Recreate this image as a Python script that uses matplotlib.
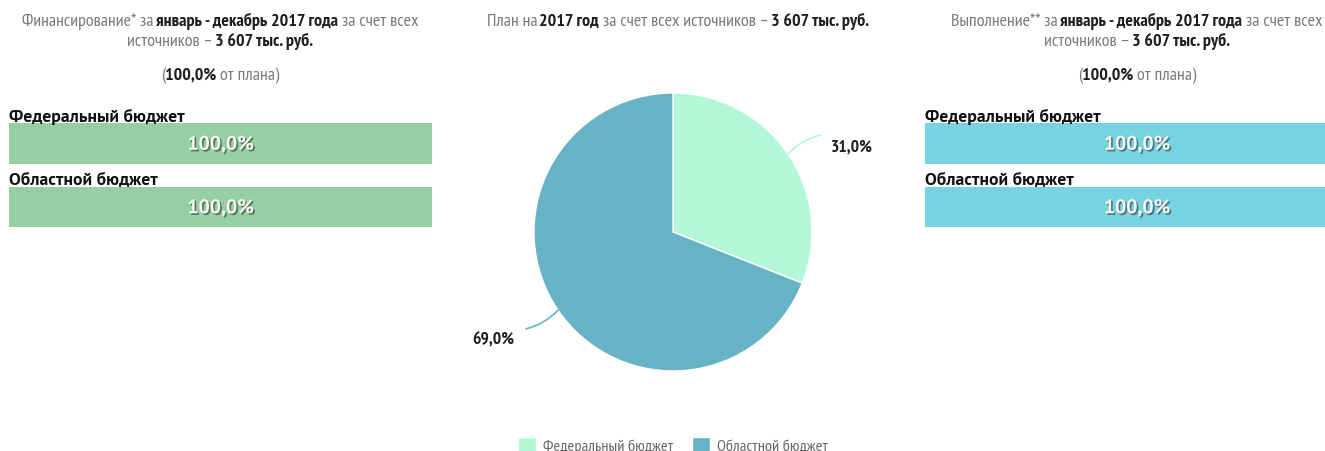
import matplotlib
matplotlib.use('Agg')
import matplotlib.pyplot as plt
import matplotlib.patheffects as pe
from matplotlib import font_manager
import numpy as np

# ---- данные ----
budget_names = ['Федеральный бюджет', 'Областной бюджет']
plan_shares = [31.0, 69.0]           # структура плана, %
financing_pct = [100.0, 100.0]       # финансирование, % от плана
execution_pct = [100.0, 100.0]       # выполнение, % от плана
total_plan = '3 607 тыс. руб.'
period = 'январь - декабрь 2017 года'

pie_colors = ['#b3f7d9', '#68b2c6']
fin_color = '#95cfa2'
exe_color = '#78d3e0'
GREY = '#7a7a7a'
DARK = '#1e1e1e'

W, H = 1325, 452

# шрифты: узкий для подписей, обычный для названий бюджетов
installed = {f.name for f in font_manager.fontManager.ttflist}


def pick(*cands):
    for c in cands:
        if c in installed:
            return c
    return 'DejaVu Sans'


NARROW = pick('PT Sans Narrow', 'Archivo Narrow', 'Liberation Sans Narrow', 'Roboto')
LABEL = pick('PT Sans', 'DejaVu Sans')

fig = plt.figure(figsize=(W / 100, H / 100), dpi=100)
renderer = fig.canvas.get_renderer()


def px(x, y):
    return x / W, 1 - y / H


def text_width(s, **kw):
    t = fig.text(0, 0, s, **kw)
    w = t.get_window_extent(renderer).width
    t.remove()
    return w


def fit_size(s, target, **kw):
    # кегль, при котором строка занимает target пикселей
    return 10 * target / text_width(s, fontsize=10, **kw)


def rich_line(xc, y, parts, size):
    # parts: (текст, жирный, пробел перед)
    em = size * 100 / 72
    widths = [text_width(s, fontsize=size, family=NARROW, fontweight='bold' if b else 'normal')
              for s, b, _ in parts]
    gaps = [0]
    for i in range(1, len(parts)):
        if not parts[i][2]:
            gaps.append(0)
        else:
            # после жирного куска пробел выглядит уже
            gaps.append((0.22 if parts[i - 1][1] else 0.12) * em)
    total = sum(widths) + sum(gaps)
    x = xc - total / 2
    for (s, b, _), w, g in zip(parts, widths, gaps):
        x += g
        fig.text(*px(x, y), s, fontsize=size, family=NARROW, fontweight='bold' if b else 'normal',
                 color=DARK if b else GREY, va='center', ha='left')
        x += w


line1 = [('Финансирование* за', False, True), (period, True, True), ('за счет всех', False, True)]
TSIZE = fit_size('Финансирование* за январь - декабрь 2017 года за счет всех', 394, family=NARROW)
line2 = [('источников –', False, True), (total_plan, True, True)]
line3 = [('(', False, False), ('100,0%', True, False), ('от плана)', False, True)]

rich_line(220, 21.5, line1, TSIZE)
rich_line(220, 41.5, line2, TSIZE)
rich_line(220, 76, line3, TSIZE)
rich_line(678, 21.5, [('План на', False, True), ('2017 год', True, True),
                      ('за счет всех источников –', False, True), (total_plan, True, True)], TSIZE)
rich_line(1137, 21.5, [('Выполнение** за', False, True), (period, True, True), ('за счет всех', False, True)], TSIZE)
rich_line(1137, 41.5, line2, TSIZE)
rich_line(1137, 76, line3, TSIZE)

LSIZE = fit_size(budget_names[0], 175, family=LABEL, fontweight='bold')
VSIZE = fit_size('100,0%', 66, family=LABEL, fontweight='bold')


def bar_panel(x0, x1, values, color):
    top, bottom = 106.4, 233.4
    ax = fig.add_axes([x0 / W, 1 - bottom / H, (x1 - x0) / W, (bottom - top) / H])
    ypos = np.arange(len(values))
    ax.barh(ypos, values, height=0.64, color=color, edgecolor='none')
    ax.set_xlim(0, 100)
    ax.set_ylim(len(values) - 0.6, -0.6)
    ax.axis('off')
    for i, (name, v) in enumerate(zip(budget_names, values)):
        ax.text(0, i - 0.44, name, fontsize=LSIZE, fontweight='bold', color='#111111',
                ha='left', va='center', family=LABEL)
        ax.text(50, i + 0.02, f'{v:.1f}%'.replace('.', ','), fontsize=VSIZE, fontweight='bold',
                color='#f6f6f6', ha='center', va='center', family=LABEL,
                path_effects=[pe.withSimplePatchShadow(offset=(1.2, -1.2), shadow_rgbFace='#2a2a2a', alpha=0.55)])
    return ax


bar_panel(9, 432, financing_pct, fin_color)
bar_panel(925, 1349, execution_pct, exe_color)

# круговая диаграмма
R = 139
half = 200
cx, cy = 673, 233
pax = fig.add_axes([(cx - half) / W, 1 - (cy + half) / H, 2 * half / W, 2 * half / H])
wedges, _ = pax.pie(plan_shares, colors=pie_colors, startangle=90, counterclock=False,
                    wedgeprops=dict(edgecolor='white', linewidth=1))
lim = half / R
pax.set_xlim(-lim, lim)
pax.set_ylim(-lim, lim)
pax.set_aspect('equal')
pax.axis('off')

PSIZE = fit_size('31,0%', 42, family=NARROW, fontweight='bold')
for w, share, col in zip(wedges, plan_shares, pie_colors):
    ang = np.deg2rad((w.theta1 + w.theta2) / 2)
    c, s = np.cos(ang), np.sin(ang)
    start = (1.0 * c, 1.0 * s)
    end = (1.28 * c, 1.24 * s)
    pax.annotate('', xy=start, xytext=end,
                 arrowprops=dict(arrowstyle='-', color=col, lw=1.2,
                                 connectionstyle='arc3,rad=0.15', shrinkA=0, shrinkB=0))
    sign = 1 if c > 0 else -1
    pax.text(end[0] + sign * 0.08, end[1] - 0.08, f'{share:.1f}%'.replace('.', ','),
             fontsize=PSIZE, fontweight='bold', color=DARK, ha='left' if c > 0 else 'right',
             va='center', family=NARROW)

GSIZE = fit_size(budget_names[0], 130, family=NARROW)
leg = fig.legend(wedges, budget_names, loc='center', ncol=2, frameon=False,
                 bbox_to_anchor=(673 / W, 1 - 446 / H), handlelength=1.1, handleheight=1.1,
                 handletextpad=0.4, columnspacing=1.2, prop=dict(size=GSIZE, family=NARROW))
for t in leg.get_texts():
    t.set_color('#666666')

fig.savefig('out.png', dpi=100)
